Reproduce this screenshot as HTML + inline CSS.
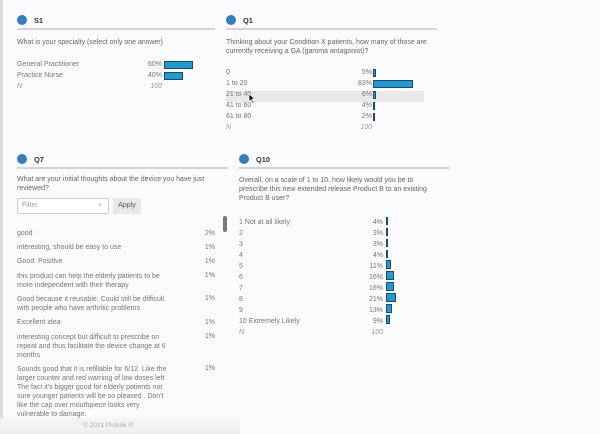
<!DOCTYPE html><html><head><style>
body{margin:0;width:600px;height:434px;background:#fbfafd;font-family:"Liberation Sans",sans-serif;font-size:7px;color:#777;position:relative;overflow:hidden}
div{position:absolute;white-space:nowrap}
.dot{width:10px;height:10px;border-radius:50%;background:#2f7fbf}
.h{font-weight:bold;color:#333;font-size:7.4px}
.ln{height:2px;background:#d4d4d6}
.q{color:#666;line-height:9px}
.r{text-align:right}
.b{height:8px;background:#1e9bd7;border:1px solid #1d4a6a;box-sizing:border-box}
.n{font-style:italic;color:#999}
.c{line-height:9px}
</style></head><body>
<div style="left:0;top:0;width:3px;height:434px;background:#ddd"></div>
<!-- S1 -->
<div class="dot" style="left:17px;top:15px"></div><div class="h" style="left:34px;top:16px">S1</div>
<div class="ln" style="left:17px;top:28px;width:198px"></div>
<div class="q" style="left:17px;top:38px">What is your specialty (select only one answer)</div>
<div style="left:17px;top:61px">General Practitioner</div><div class="r" style="left:130px;width:32px;top:61px">60%</div><div class="b" style="left:164px;top:61px;width:29px"></div>
<div style="left:17px;top:72px">Practice Nurse</div><div class="r" style="left:130px;width:32px;top:72px">40%</div><div class="b" style="left:164px;top:72px;width:19px"></div>
<div class="n" style="left:17px;top:83px">N</div><div class="r n" style="left:130px;width:32px;top:83px">100</div>
<!-- Q1 -->
<div class="dot" style="left:226px;top:15px"></div><div class="h" style="left:243px;top:16px">Q1</div>
<div class="ln" style="left:226px;top:28px;width:211px"></div>
<div class="q" style="left:226px;top:38px">Thinking about your Condition X patients, how many of those are<br>currently receiving a GA (gamma antagonist)?</div>
<div style="left:226px;top:91px;width:198px;height:11px;background:#e9e9eb"></div>
<div style="left:226px;top:69px">0</div><div class="r" style="left:340px;width:32px;top:69px">5%</div><div class="b" style="left:373px;top:69px;width:3px"></div>
<div style="left:226px;top:80px">1 to 20</div><div class="r" style="left:340px;width:32px;top:80px">83%</div><div class="b" style="left:373px;top:80px;width:40px"></div>
<div style="left:226px;top:91px">21 to 40</div><div class="r" style="left:340px;width:32px;top:91px">6%</div><div class="b" style="left:373px;top:91px;width:3px"></div>
<div style="left:226px;top:102px">41 to 60</div><div class="r" style="left:340px;width:32px;top:102px">4%</div><div class="b" style="left:373px;top:102px;width:2px"></div>
<div style="left:226px;top:113px">61 to 80</div><div class="r" style="left:340px;width:32px;top:113px">2%</div><div class="b" style="left:373px;top:113px;width:1px"></div>
<div class="n" style="left:226px;top:124px">N</div><div class="r n" style="left:340px;width:32px;top:124px">100</div>
<svg style="position:absolute;left:248px;top:93px" width="8" height="12"><path d="M1 1 L1 9 L3 7 L5 11 L6 10 L4 6 L7 6 Z" fill="#000" stroke="#fff" stroke-width="0.8"/></svg>
<!-- Q7 -->
<div class="dot" style="left:17px;top:154px"></div><div class="h" style="left:34px;top:155px">Q7</div>
<div class="ln" style="left:17px;top:167px;width:211px"></div>
<div class="q" style="left:17px;top:175px">What are your initial thoughts about the device you have just<br>reviewed?</div>
<div style="left:17px;top:198px;width:92px;height:16px;border:1px solid #ccc;border-radius:2px;background:#fff;box-sizing:border-box"></div>
<div style="left:22px;top:202px;color:#999">Filter</div><div style="left:98px;top:202px;color:#aaa">×</div>
<div style="left:113px;top:198px;width:28px;height:16px;background:#e8e8ea;text-align:center;line-height:16px;color:#555">Apply</div>
<div style="left:223px;top:216px;width:4px;height:16px;border-radius:2px;background:#777"></div>
<div style="left:17px;top:230px">good</div><div class="r" style="left:185px;width:30px;top:230px">2%</div>
<div style="left:17px;top:244px">interesting, should be easy to use</div><div class="r" style="left:185px;width:30px;top:244px">1%</div>
<div style="left:17px;top:258px">Good. Positive</div><div class="r" style="left:185px;width:30px;top:258px">1%</div>
<div class="c" style="left:17px;top:272px">this product can help the elderly patients to be<br>more independent with their therapy</div><div class="r" style="left:185px;width:30px;top:272px">1%</div>
<div class="c" style="left:17px;top:295px">Good because it reusable. Could still be difficult<br>with people who have arthritic problems</div><div class="r" style="left:185px;width:30px;top:295px">1%</div>
<div style="left:17px;top:319px">Excellent idea</div><div class="r" style="left:185px;width:30px;top:319px">1%</div>
<div class="c" style="left:17px;top:333px">interesting concept but difficult to prescribe on<br>repeat and thus facilitate the device change at 6<br>months</div><div class="r" style="left:185px;width:30px;top:333px">1%</div>
<div class="c" style="left:17px;top:365px">Sounds good that it is refillable for 6/12. Like the<br>larger counter and red warning of low doses left<br>The fact it's bigger good for elderly patients not<br>sure younger patients will be so pleased . Don't<br>like the cap over mouthpiece looks very<br>vulnerable to damage.</div><div class="r" style="left:185px;width:30px;top:365px">1%</div>
<div style="left:0;top:418px;width:240px;height:16px;background:linear-gradient(#f6f6f8,#eeeef0)"></div>
<div style="left:83px;top:422px;color:#aaa;font-size:6.5px">© 2021 Protobi ®</div>
<!-- Q10 -->
<div class="dot" style="left:239px;top:154px"></div><div class="h" style="left:256px;top:155px">Q10</div>
<div class="ln" style="left:239px;top:167px;width:211px"></div>
<div class="q" style="left:239px;top:176px">Overall, on a scale of 1 to 10, how likely would you be to<br>prescribe this new extended release Product B to an existing<br>Product B user?</div>
<div style="left:239px;top:217px;line-height:11px">1 Not at all likely<br>2<br>3<br>4<br>5<br>6<br>7<br>8<br>9<br>10 Extremely Likely<br><i style="color:#999">N</i></div>
<div class="r" style="left:350px;width:33px;top:217px;line-height:11px">4%<br>3%<br>3%<br>4%<br>11%<br>16%<br>16%<br>21%<br>13%<br>9%<br><i style="color:#999">100</i></div>
<div class="b" style="left:386px;top:217px;width:2px"></div>
<div class="b" style="left:386px;top:228px;width:1px"></div>
<div class="b" style="left:386px;top:239px;width:1px"></div>
<div class="b" style="left:386px;top:250px;width:2px"></div>
<div class="b" style="left:386px;top:260px;width:5px;height:9px"></div>
<div class="b" style="left:386px;top:271px;width:8px;height:9px"></div>
<div class="b" style="left:386px;top:282px;width:8px;height:9px"></div>
<div class="b" style="left:386px;top:293px;width:10px;height:9px"></div>
<div class="b" style="left:386px;top:304px;width:6px;height:9px"></div>
<div class="b" style="left:386px;top:315px;width:4px;height:9px"></div>
</body></html>
